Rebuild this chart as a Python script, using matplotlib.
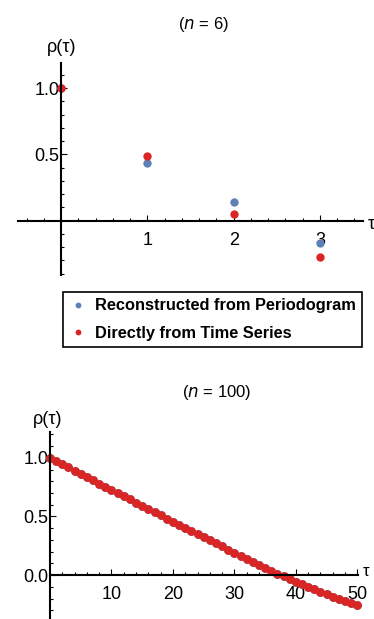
import matplotlib.pyplot as plt
from matplotlib.ticker import MultipleLocator, FixedLocator

# n = 6 sample
lags_6 = [0, 1, 2, 3]
periodogram_6 = [1.0, 0.434, 0.14, -0.168]
direct_6 = [1.0, 0.49, 0.053, -0.276]

# n = 100 sample
lags_100 = list(range(51))
direct_100 = [1.000, 0.972, 0.945, 0.918, 0.890, 0.863, 0.836, 0.808, 0.781, 0.754,
              0.727, 0.699, 0.672, 0.645, 0.617, 0.590, 0.563, 0.536, 0.509, 0.482,
              0.455, 0.428, 0.401, 0.375, 0.348, 0.322, 0.296, 0.270, 0.244, 0.218,
              0.192, 0.166, 0.140, 0.114, 0.089, 0.063, 0.038, 0.013, -0.011, -0.034,
              -0.057, -0.079, -0.101, -0.122, -0.143, -0.163, -0.183, -0.202, -0.221, -0.239,
              -0.256]
# both estimates coincide at this resolution
periodogram_100 = list(direct_100)

BLUE = '#5e81b5'
RED = '#d92523'
W, H = 374, 619

plt.rcParams['font.family'] = ['Liberation Sans', 'DejaVu Sans']

fig = plt.figure(figsize=(W / 100, H / 100), dpi=100)


def px_axes(left, top, right, bottom):
    return fig.add_axes([left / W, 1 - bottom / H, (right - left) / W, (bottom - top) / H])


def style_axes(ax):
    for side in ('top', 'right'):
        ax.spines[side].set_visible(False)
    for side in ('left', 'bottom'):
        ax.spines[side].set_position(('data', 0))
        ax.spines[side].set_linewidth(1.5)
    ax.patch.set_alpha(0)
    ax.tick_params(which='both', direction='in', width=0.8, labelsize=13)
    ax.tick_params(which='major', length=4)
    ax.tick_params(which='minor', length=2)
    ax.tick_params(axis='y', pad=1)
    ax.tick_params(axis='x', pad=8)


# --- top panel (n = 6)
ax1 = px_axes(18, 63, 363, 275)
ax1.set_xlim(-0.5, 3.5)
ax1.set_ylim(-0.41, 1.19)
style_axes(ax1)
ax1.xaxis.set_major_locator(FixedLocator([1, 2, 3]))
ax1.xaxis.set_minor_locator(MultipleLocator(0.2))
ax1.yaxis.set_major_locator(FixedLocator([0.5, 1.0]))
ax1.yaxis.set_minor_locator(MultipleLocator(0.1))
ax1.set_yticklabels(['0.5', '1.0'])
p1 = ax1.plot(lags_6, periodogram_6, 'o', color=BLUE, ms=6, mec='none', clip_on=False,
              label='Reconstructed from Periodogram')[0]
p2 = ax1.plot(lags_6, direct_6, 'o', color=RED, ms=6, mec='none', clip_on=False,
              label='Directly from Time Series')[0]
fig.text(203 / W, 1 - 24 / H, '($n$ = 6)', ha='center', va='center', fontsize=12)
fig.text(62 / W, 1 - 48 / H, 'ρ(τ)', ha='center', va='center', fontsize=13)
fig.text(368 / W, 1 - 225 / H, 'τ', ha='left', va='center', fontsize=13)

leg = fig.legend(handles=[p1, p2], loc='upper left',
                 bbox_to_anchor=(62.7 / W, 1 - 291.7 / H), borderaxespad=0,
                 fancybox=False, framealpha=1, edgecolor='black',
                 prop={'weight': 'bold', 'size': 11.8}, markerscale=0.7,
                 handlelength=1.1, handletextpad=0.45, labelspacing=0.75,
                 borderpad=0.4, handleheight=0.7)
leg.get_frame().set_linewidth(1.2)

# --- bottom panel (n = 100)
ax2 = px_axes(50, 432, 358, 619)
ax2.set_xlim(0, 50.1)
ax2.set_ylim(-0.374, 1.22)
style_axes(ax2)
ax2.xaxis.set_major_locator(FixedLocator([10, 20, 30, 40, 50]))
ax2.xaxis.set_minor_locator(MultipleLocator(2))
ax2.yaxis.set_major_locator(FixedLocator([0.0, 0.5, 1.0]))
ax2.yaxis.set_minor_locator(MultipleLocator(0.1))
ax2.set_yticklabels(['0.0', '0.5', '1.0'])
ax2.plot(lags_100, periodogram_100, 'o', color=BLUE, ms=6.3, mec='none', clip_on=False)
ax2.plot(lags_100, direct_100, 'o', color=RED, ms=6.3, mec='none', clip_on=False)
fig.text(217 / W, 1 - 393 / H, '($n$ = 100)', ha='center', va='center', fontsize=12)
fig.text(47.5 / W, 1 - 420 / H, 'ρ(τ)', ha='center', va='center', fontsize=13)
fig.text(363 / W, 1 - 572 / H, 'τ', ha='left', va='center', fontsize=12)

fig.savefig('out.png', dpi=100)
